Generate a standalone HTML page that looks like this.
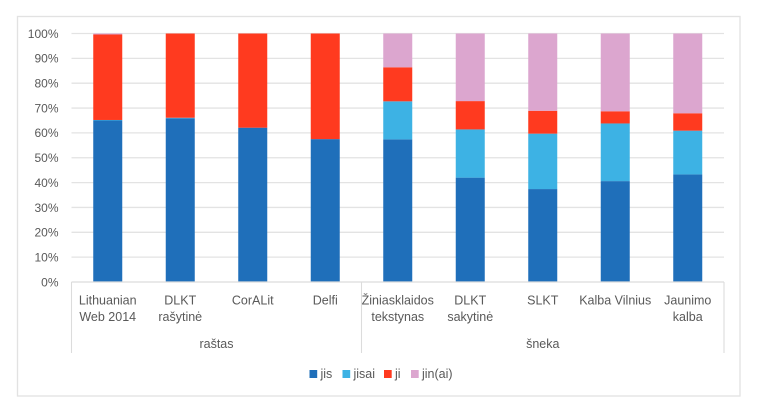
<!DOCTYPE html>
<html lang="lt">
<head>
<meta charset="utf-8">
<title>Stacked percent chart</title>
<style>
html,body{margin:0;padding:0;background:#fff;width:760px;height:407px;overflow:hidden}
svg{display:block}
text{font-family:"Liberation Sans",sans-serif;font-size:12px;fill:#595959}
</style>
</head>
<body>
<svg id="chart" xmlns="http://www.w3.org/2000/svg" width="760" height="407" viewBox="0 0 760 407"></svg>
<script>
const categories = [
  ["Lithuanian", "Web 2014"],
  ["DLKT", "rašytinė"],
  ["CorALit"],
  ["Delfi"],
  ["Žiniasklaidos", "tekstynas"],
  ["DLKT", "sakytinė"],
  ["SLKT"],
  ["Kalba Vilnius"],
  ["Jaunimo", "kalba"]
];
const groupNames = ["raštas", "šneka"];
const groupSizes = [4, 5];
const seriesNames = ["jis", "jisai", "ji", "jin(ai)"];
const jis = [65.0, 65.9, 62.1, 57.5, 57.4, 42.0, 37.4, 40.6, 43.3];
const jisai = [0.2, 0.2, 0, 0, 15.3, 19.4, 22.3, 23.2, 17.6];
const ji = [34.4, 33.9, 37.9, 42.5, 13.7, 11.4, 9.2, 4.9, 7.0];
const jinai = [0.4, 0, 0, 0, 13.6, 27.2, 31.1, 31.3, 32.1];
const yTicks = [0, 10, 20, 30, 40, 50, 60, 70, 80, 90, 100];

const seriesValues = [jis, jisai, ji, jinai];
const seriesColors = ["#1f6fba", "#3db2e4", "#ff3a1f", "#dca6cf"];
const NS = "http://www.w3.org/2000/svg";
const svg = document.getElementById("chart");
const plot = {left: 71.5, right: 724, top: 33.5, bottom: 282, sepBottom: 353};
const catWidth = (plot.right - plot.left) / categories.length;
const barWidth = 29;

function yScale(v) { return plot.bottom - (v / 100) * (plot.bottom - plot.top); }
function xCenter(i) { return plot.left + catWidth * (i + 0.5); }
function make(tag, attrs, text) {
  const el = document.createElementNS(NS, tag);
  for (const k in attrs) el.setAttribute(k, attrs[k]);
  if (text !== undefined) el.textContent = text;
  svg.appendChild(el);
  return el;
}

const frame = make("rect", {x: 17.5, y: 16.5, width: 722.5, height: 379.5, fill: "#fff", stroke: "#e2e2e2", "stroke-width": 1.3});



yTicks.forEach(function (t) {
  if (t > 0) {
    const g = make("line", {x1: plot.left, x2: plot.right, y1: yScale(t), y2: yScale(t), stroke: "#e3e3e3", "stroke-width": 1.3});
    
    
  }
  const lab = make("text", {x: 58.5, y: yScale(t) + 4.3, "text-anchor": "end"}, t + "%");
  
  
});

categories.forEach(function (lines, i) {
  let acc = 0;
  seriesValues.forEach(function (vals, s) {
    const v = vals[i];
    if (v > 0) {
      const r = make("rect", {x: xCenter(i) - barWidth / 2, y: yScale(acc + v), width: barWidth, height: yScale(acc) - yScale(acc + v), fill: seriesColors[s]});
      
      
    }
    acc += v;
  });
  lines.forEach(function (ln, k) {
    const c = make("text", {x: xCenter(i), y: 304.5 + k * 16.7, "text-anchor": "middle", "font-size": 12.5}, ln);
    c.style.fontSize = "12.5px";
    
    
  });
});

const axis = make("line", {x1: plot.left, x2: plot.right, y1: plot.bottom, y2: plot.bottom, stroke: "#dcdcdc", "stroke-width": 1.2});



let start = 0;
groupNames.forEach(function (name, g) {
  const x0 = plot.left + start * catWidth;
  const x1 = x0 + groupSizes[g] * catWidth;
  const sep = make("line", {x1: x0, x2: x0, y1: plot.bottom, y2: plot.sepBottom, stroke: "#dcdcdc", "stroke-width": 1.1});
  
  
  if (g === groupNames.length - 1) {
    const end = make("line", {x1: x1, x2: x1, y1: plot.bottom, y2: plot.sepBottom, stroke: "#dcdcdc", "stroke-width": 1.1});
    
    
  }
  const lab = make("text", {x: (x0 + x1) / 2, y: 348, "text-anchor": "middle"}, name);
  lab.style.fontSize = "12.5px";
  
  
  start += groupSizes[g];
});

let legendX = 309.5;
const legendGaps = [33, 41.5, 27];
seriesNames.forEach(function (name, s) {
  const m = make("rect", {x: legendX, y: 370, width: 7.7, height: 8, fill: seriesColors[s]});
  
  
  const t = make("text", {x: legendX + 11, y: 378}, name);
  t.style.fontSize = "12.5px";
  
  
  legendX += legendGaps[s] || 0;
});
</script>
</body>
</html>
